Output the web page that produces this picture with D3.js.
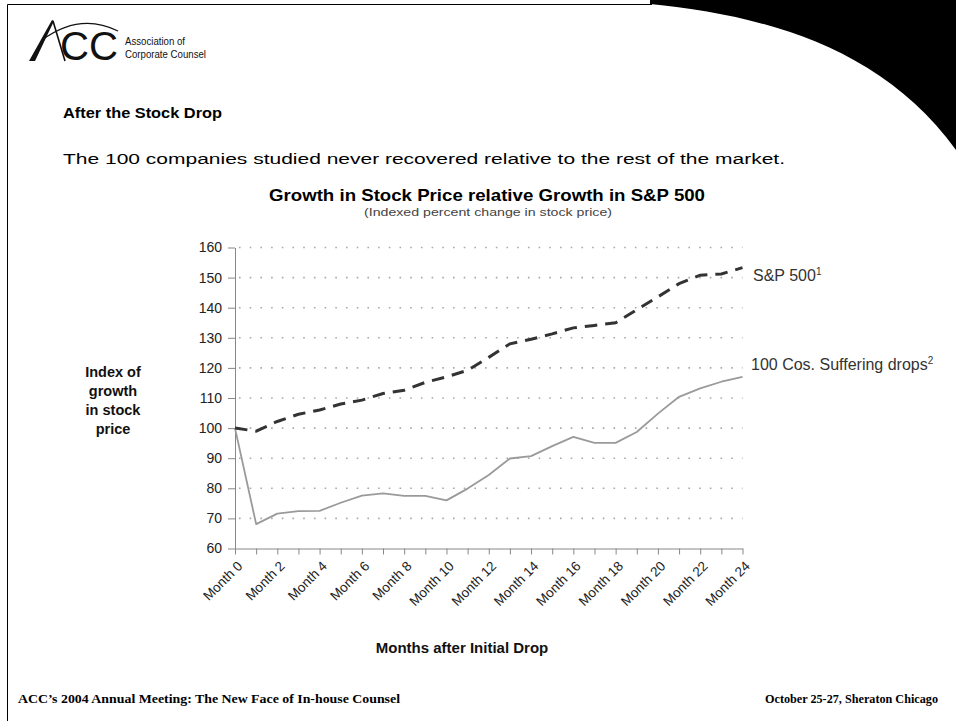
<!DOCTYPE html>
<html><head><meta charset="utf-8">
<script src="https://cdn.jsdelivr.net/npm/d3@7"></script>
<style>body{margin:0;background:#fff} svg{display:block}</style>
</head><body><svg id="c" width="956" height="721"></svg>
<script>
// ---- data ----
const months = [0,1,2,3,4,5,6,7,8,9,10,11,12,13,14,15,16,17,18,19,20,21,22,23,24];
const monthTickLabels = ["Month 0","Month 2","Month 4","Month 6","Month 8","Month 10","Month 12","Month 14","Month 16","Month 18","Month 20","Month 22","Month 24"];
const sp500 = [100, 99, 102.2, 104.6, 106, 108, 109.3, 111.5, 112.6, 115.2, 117, 119.2, 123.5, 128, 129.5, 131.3, 133.3, 134.1, 135, 139.3, 143.6, 148, 150.8, 151.2, 153.3];
const cos100 = [100, 68.1, 71.6, 72.4, 72.5, 75.2, 77.6, 78.3, 77.5, 77.5, 76, 79.9, 84.4, 89.9, 90.7, 94, 97.1, 95.1, 95.1, 98.7, 104.8, 110.4, 113.2, 115.4, 117];
const yTicks = [60,70,80,90,100,110,120,130,140,150,160];
const seriesNames = ["S&P 500", "100 Cos. Suffering drops"];
const seriesNotes = ["1", "2"];

const svg = d3.select("#c");
const sans = "'Liberation Sans', Arial, Helvetica, sans-serif";
const serif = "'Liberation Serif', 'Times New Roman', serif";

// ---- slide decoration ----
svg.append("path").attr("d","M650,0 L956,0 L956,150 C880,45 760,15 650,4 Z").attr("fill","#000");
svg.append("path").attr("d","M7.5,721 L7.5,4.5 L652,4.5").attr("fill","none").attr("stroke","#000").attr("stroke-width",1);

// logo
const logo = svg.append("g");
logo.append("path").attr("d","M29,61 L35,61 L54,21 L52,20 Z").attr("fill","#111");
logo.append("path").attr("d","M53,21 L65,61").attr("stroke","#111").attr("stroke-width",1.6).attr("fill","none");
logo.append("path").attr("d","M42,40 Q80,12 118,31").attr("stroke","#111").attr("stroke-width",1.3).attr("fill","none");
logo.append("text").attr("x",60).attr("y",60).attr("font-family",sans).attr("font-size",40).attr("fill","#111").attr("textLength",58).attr("lengthAdjust","spacingAndGlyphs").text("CC");
logo.append("text").attr("x",125).attr("y",45).attr("font-family","'Liberation Sans Narrow', "+sans).attr("font-size",11.5).attr("fill","#111").attr("textLength",60).attr("lengthAdjust","spacingAndGlyphs").text("Association of");
logo.append("text").attr("x",125).attr("y",57.5).attr("font-family","'Liberation Sans Narrow', "+sans).attr("font-size",11.5).attr("fill","#111").attr("textLength",81).attr("lengthAdjust","spacingAndGlyphs").text("Corporate Counsel");

// headings
svg.append("text").attr("x",63).attr("y",118).attr("font-family",sans).attr("font-weight","bold").attr("font-size",14.5).attr("fill","#000").attr("textLength",159).attr("lengthAdjust","spacingAndGlyphs").text("After the Stock Drop");
svg.append("text").attr("x",63).attr("y",164).attr("font-family",sans).attr("font-size",15.5).attr("fill","#000").attr("textLength",722).attr("lengthAdjust","spacingAndGlyphs").text("The 100 companies studied never recovered relative to the rest of the market.");

// chart titles
svg.append("text").attr("x",487).attr("y",201).attr("text-anchor","middle").attr("font-family",sans).attr("font-weight","bold").attr("font-size",17).attr("fill","#000").attr("textLength",436).attr("lengthAdjust","spacingAndGlyphs").text("Growth in Stock Price relative Growth in S&P 500");
svg.append("text").attr("x",488).attr("y",216).attr("text-anchor","middle").attr("font-family",sans).attr("font-size",11.5).attr("fill","#444").attr("textLength",248).attr("lengthAdjust","spacingAndGlyphs").text("(Indexed percent change in stock price)");

// ---- scales ----
const x = d3.scaleLinear().domain([0,24]).range([235,742.5]);
const y = d3.scaleLinear().domain([60,160]).range([548.5,247.5]);

// gridlines
svg.append("g").selectAll("line").data(yTicks.filter(v=>v>60)).join("line")
  .attr("x1",x(0)+4).attr("x2",x(24)).attr("y1",d=>y(d)).attr("y2",d=>y(d))
  .attr("stroke","#a8a8a8").attr("stroke-width",1.6).attr("stroke-dasharray","1.6,9.1");

// y axis
const ya = svg.append("g").attr("transform",`translate(${x(0)},0)`)
  .call(d3.axisLeft(y).tickValues(yTicks).tickSize(7).tickSizeOuter(0).tickPadding(6));
ya.select(".domain").attr("stroke","#888");
ya.selectAll(".tick line").attr("stroke","#888");
ya.selectAll(".tick text").attr("font-family",sans).attr("font-size",14).attr("fill","#222");

// x axis
const xa = svg.append("g").attr("transform",`translate(0,${y(60)})`)
  .call(d3.axisBottom(x).tickValues(months).tickSize(6).tickSizeOuter(0).tickFormat(()=>""));
xa.select(".domain").attr("stroke","#888");
xa.selectAll(".tick line").attr("stroke","#888");
svg.append("g").selectAll("text").data(monthTickLabels).join("text")
  .attr("transform",(d,i)=>`translate(${x(i*2)+5},${y(60)+15}) rotate(-45)`)
  .attr("text-anchor","end").attr("dy","0.35em")
  .attr("font-family",sans).attr("font-size",13.5).attr("fill","#222").text(d=>d);

// axis titles
const yt = svg.append("text").attr("text-anchor","middle").attr("font-family",sans).attr("font-weight","bold").attr("font-size",14.5).attr("fill","#111");
["Index of","growth","in stock","price"].forEach((t,i)=>yt.append("tspan").attr("x",113).attr("y",376.5+i*19).text(t));
svg.append("text").attr("x",462).attr("y",653).attr("text-anchor","middle").attr("font-family",sans).attr("font-weight","bold").attr("font-size",15).attr("fill","#111").text("Months after Initial Drop");

// ---- lines ----
const line = d3.line().x((d,i)=>x(months[i])).y(d=>y(d));
svg.append("path").datum(cos100).attr("d",line).attr("fill","none").attr("stroke","#9a9a9a").attr("stroke-width",1.8).attr("stroke-linejoin","round");
svg.append("path").datum(sp500).attr("d",line).attr("fill","none").attr("stroke","#333").attr("stroke-width",3).attr("stroke-dasharray","12.5,8");

// series labels
const lab = [[753,281],[751,370]];
seriesNames.forEach((n,i)=>{
  const t = svg.append("text").attr("x",lab[i][0]).attr("y",lab[i][1]).attr("font-family",sans).attr("font-size",16).attr("fill","#333");
  t.append("tspan").text(n);
  t.append("tspan").attr("font-size",10).attr("dy",-6).text(seriesNotes[i]);
});

// footer
svg.append("text").attr("x",18).attr("y",703).attr("font-family",serif).attr("font-weight","bold").attr("font-size",11.5).attr("fill","#000").attr("textLength",382).attr("lengthAdjust","spacingAndGlyphs").text("ACC’s 2004 Annual Meeting: The New Face of In-house Counsel");
svg.append("text").attr("x",938).attr("y",703).attr("text-anchor","end").attr("font-family",serif).attr("font-weight","bold").attr("font-size",11.5).attr("fill","#000").attr("textLength",173).attr("lengthAdjust","spacingAndGlyphs").text("October 25-27, Sheraton Chicago");
</script></body></html>
